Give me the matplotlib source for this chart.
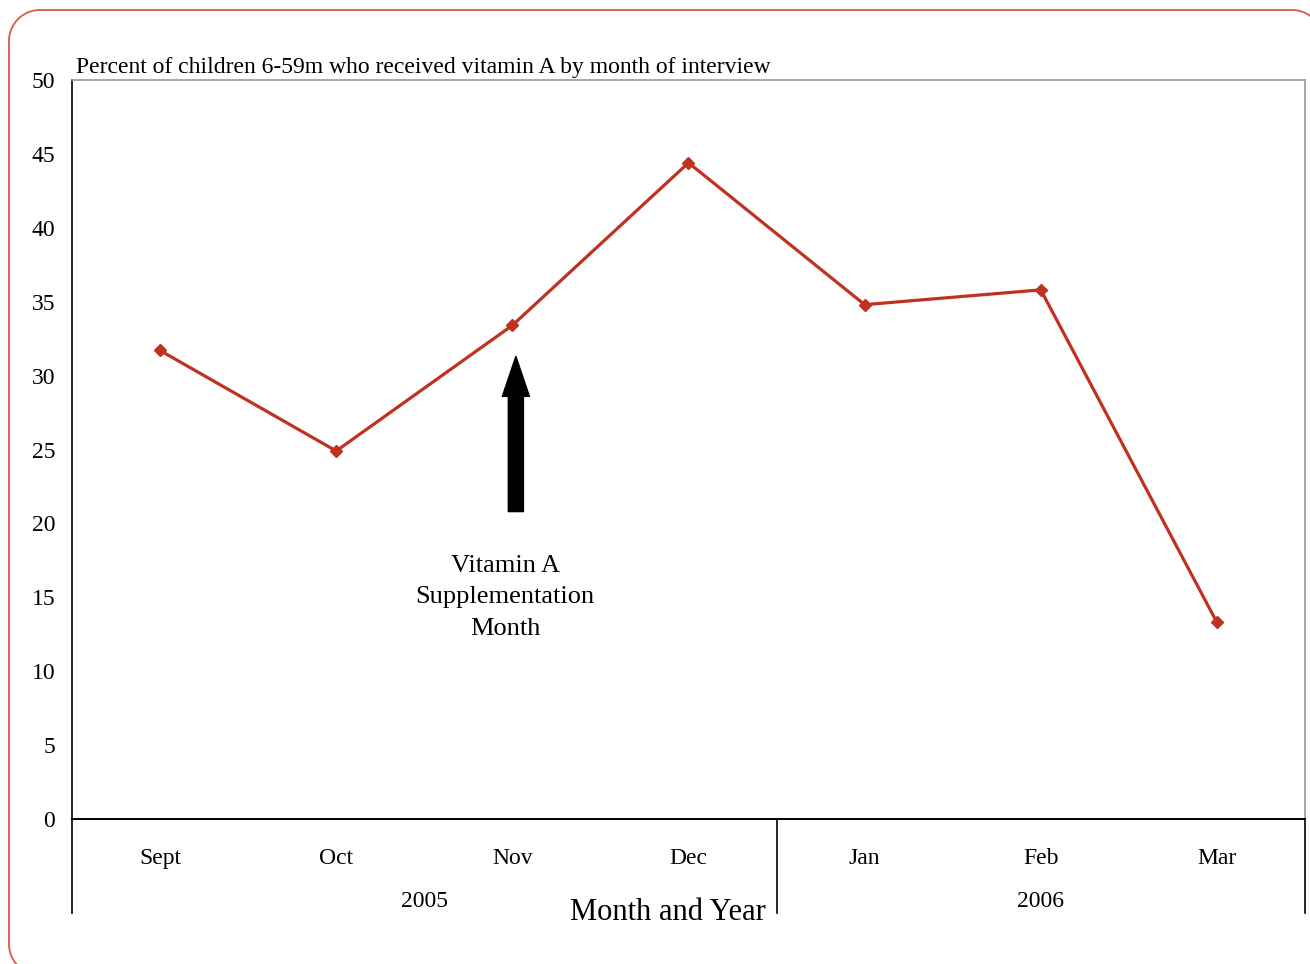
import matplotlib
matplotlib.use("Agg")
import numpy as np
import matplotlib.pyplot as plt
from matplotlib.lines import Line2D
import matplotlib.transforms as mtransforms

months = ["Sept", "Oct", "Nov", "Dec", "Jan", "Feb", "Mar"]
percent = [31.7, 24.9, 33.4, 44.4, 34.8, 35.8, 13.3]
years = ["2005", "2006"]
months_per_year = [4, 3]
yticks = [0, 5, 10, 15, 20, 25, 30, 35, 40, 45, 50]
title = "Percent of children 6-59m who received vitamin A by month of interview"
xlabel = "Month and Year"
annotation = "Vitamin A\nSupplementation\nMonth"
arrow_month = "Nov"
arrow_from, arrow_to = 20.8, 31.3

plt.rcParams['font.family'] = ['Liberation Serif', 'DejaVu Serif']

W, H = 1310, 964
fig = plt.figure(figsize=(W / 100, H / 100), dpi=100)
ax = fig.add_axes([0.05496, 0.15041, 0.99618 - 0.05496, 0.91701 - 0.15041])

red = "#c0311f"
x = list(range(len(months)))
ax.plot(x, percent, color=red, lw=2.3, marker="D", markersize=6.5, zorder=3)

ax.set_xlim(-0.5, len(months) - 0.5)
ax.set_ylim(0, 50)
ax.set_yticks(yticks)
ax.set_yticklabels([str(v) for v in yticks], fontsize=17)
ax.set_xticks(x)
ax.set_xticklabels(months, fontsize=17)
ax.tick_params(axis='y', length=0, pad=12)
ax.tick_params(axis='x', length=0, pad=21)

for s in ["top", "right"]:
    ax.spines[s].set_color("#9a9a9a")
    ax.spines[s].set_linewidth(1.2)
ax.spines["left"].set_color("black")
ax.spines["left"].set_linewidth(1.2)
ax.spines["bottom"].set_color("black")
ax.spines["bottom"].set_linewidth(1.4)

# extended group dividers below axis
trans = ax.get_xaxis_transform()
bottom_ext = -0.127
edges = [-0.5]
acc = -0.5
for n in months_per_year:
    acc += n
    edges.append(acc)
for e in edges:
    ax.add_line(Line2D([e, e], [0, bottom_ext], transform=trans, color="black",
                       lw=1.2, clip_on=False))

# year labels
start = -0.5
for yr, n in zip(years, months_per_year):
    ax.text(start + n / 2.0, -0.112, yr, transform=trans, ha="center", va="center",
            fontsize=17)
    start += n

# axis label
fig.text(668 / W, 1 - 913 / H, xlabel, ha="center", va="center", fontsize=22)

# title
ax.text(0.003, 1.003, title, transform=ax.transAxes, ha="left", va="bottom", fontsize=17)

# arrow
xi = months.index(arrow_month) + 0.02
ax.annotate("", xy=(xi, arrow_to), xytext=(xi, arrow_from),
            arrowprops=dict(arrowstyle="simple,head_length=1.8,head_width=1.22,tail_width=0.68",
                            color="black", shrinkA=0, shrinkB=0, mutation_scale=16))
ax.text(xi - 0.06, 15.0, annotation, ha="center", va="center", fontsize=19,
        linespacing=1.55)

# rounded border drawn as explicit path in pixel coords (y measured from top)
x0, x1, y0, y1, r = 9, 1323, 10, 975, 31
def arc(cx, cy, a0, a1):
    t = np.linspace(np.radians(a0), np.radians(a1), 30)
    return cx + r * np.cos(t), cy - r * np.sin(t)
segs = [arc(x0 + r, y0 + r, 180, 90), arc(x1 - r, y0 + r, 90, 0),
        arc(x1 - r, y1 - r, 0, -90), arc(x0 + r, y1 - r, -90, -180)]
bx = np.concatenate([s[0] for s in segs] + [segs[0][0][:1]])
by = np.concatenate([s[1] for s in segs] + [segs[0][1][:1]])
fig.add_artist(Line2D(bx / W, 1 - by / H, transform=fig.transFigure,
                      color="#d9634f", lw=1.4, clip_on=False))

fig.savefig("out.png", dpi=100)
